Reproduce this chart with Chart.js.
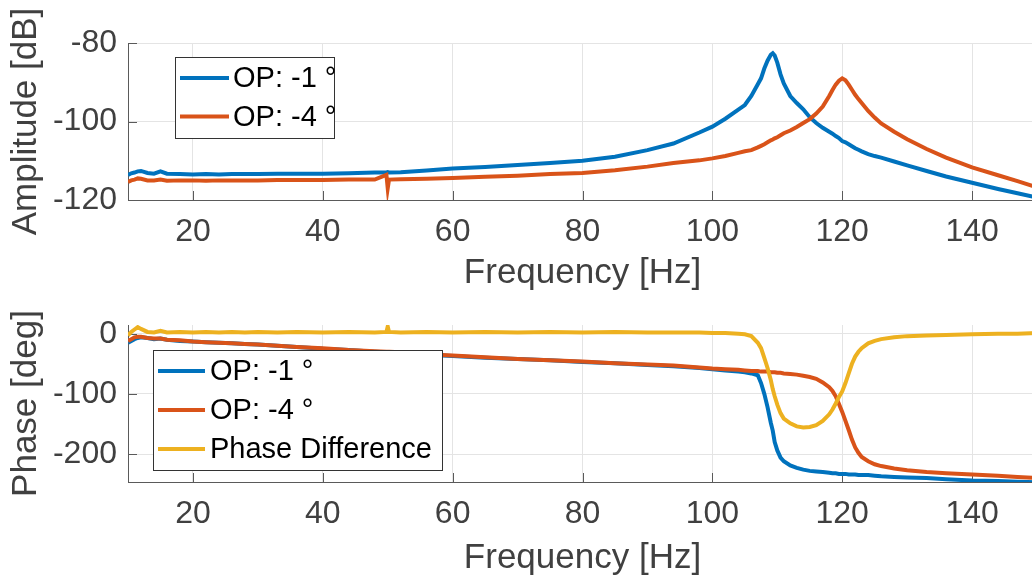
<!DOCTYPE html>
<html><head><meta charset="utf-8">
<script src="https://cdn.jsdelivr.net/npm/chart.js@4.4.0/dist/chart.umd.min.js"></script>
<style>
html,body{margin:0;padding:0;background:#fff;overflow:hidden;width:1032px;height:583px}
#wrap{position:relative;width:1032px;height:583px;overflow:hidden;background:#fff}
canvas{position:absolute;left:0}
</style></head><body>
<div id="wrap">
<canvas id="c1" width="1037" height="291" style="top:0;width:1037px;height:291px"></canvas>
<canvas id="c2" width="1037" height="292" style="top:291px;width:1037px;height:292px"></canvas>
</div>
<script>
const freq = [10, 10.5, 11, 11.5, 12, 13, 14, 15, 16, 18, 20, 22, 24, 26, 28, 30, 33, 36, 40, 44, 48, 49.8, 50, 50.2, 52, 56, 60, 65, 70, 75, 80, 85, 90, 94, 98, 100, 102, 104, 105, 106, 107, 107.5, 108, 108.5, 109, 109.3, 109.6, 110, 110.5, 111, 112, 113, 114, 115, 116, 117, 118, 118.5, 119, 119.5, 120, 120.5, 121, 121.5, 122, 122.5, 123, 124, 125, 126, 128, 130, 133, 136, 140, 144, 147, 150];

const ampOP1 = [-113.6, -113.2, -113.0, -112.7, -112.6, -113.1, -113.3, -112.7, -113.3, -113.4, -113.5, -113.4, -113.5, -113.4, -113.4, -113.4, -113.3, -113.3, -113.3, -113.2, -113.0, -113.0, -112.9, -113.0, -112.9, -112.5, -112.0, -111.6, -111.1, -110.6, -110.0, -109.0, -107.3, -105.6, -102.8, -101.3, -99.3, -97.0, -95.8, -93.5, -90.5, -89.0, -86.5, -84.5, -83.0, -82.6, -83.2, -85.0, -88.0, -90.3, -93.5, -95.3, -96.9, -98.9, -100.4, -101.6, -102.6, -103.1, -103.7, -104.2, -105.0, -105.3, -105.8, -106.3, -106.8, -107.2, -107.6, -108.3, -108.8, -109.2, -110.2, -111.2, -112.6, -114.0, -115.6, -117.2, -118.3, -119.4];

const ampOP4 = [-115.4, -115.0, -114.8, -114.5, -114.6, -115.0, -115.0, -114.8, -115.1, -115.0, -115.0, -115.1, -115.0, -115.0, -115.0, -115.0, -114.9, -114.9, -114.9, -114.8, -114.8, -113.6, -117.0, -114.8, -114.7, -114.6, -114.4, -114.1, -113.8, -113.4, -113.1, -112.4, -111.5, -110.6, -109.9, -109.4, -108.8, -108.0, -107.6, -107.3, -106.6, -106.2, -105.8, -105.3, -104.8, -104.6, -104.3, -104.0, -103.5, -103.0, -102.3, -101.4, -100.4, -99.4, -98.0, -96.2, -93.5, -92.0, -90.6, -89.6, -89.0, -89.5, -90.6, -91.9, -93.2, -94.3, -95.3, -97.3, -99.0, -100.5, -102.6, -104.5, -107.0, -109.2, -111.7, -113.7, -115.2, -116.8];

const phaseOP1 = [-15, -12, -9, -7, -6, -7, -9, -8, -10, -12, -13, -14, -15, -16, -17, -18, -20, -22, -25, -27, -30, -31, -31, -31, -32, -35, -37, -40, -42, -44, -47, -49, -52, -54, -57, -59, -61, -63, -64, -66, -69, -82, -100, -122, -148, -161, -180, -194, -206, -212, -219, -223, -226, -228, -229, -230, -231, -232, -232, -233, -233, -233, -234, -234, -234, -235, -235, -235, -236, -237, -238, -239, -240, -242, -244, -245, -246, -247];

const phaseOP4 = [-12, -9, -6, -5, -5, -7, -8, -8, -10, -11, -13, -14, -15, -16, -17, -18, -20, -22, -24, -27, -29, -30, -30, -30, -31, -34, -36, -39, -42, -44, -46, -49, -51, -53, -56, -58, -59, -60, -61, -62, -62, -63, -63, -63, -64, -64, -64, -65, -65, -66, -67, -68, -70, -72, -75, -81, -89, -95, -104, -117, -130, -145, -160, -176, -189, -198, -205, -212, -217, -220, -224, -227, -230, -232, -234, -236, -238, -240];

const phaseDiff = [-3, 3, 7, 11, 8, 3, 2, 5, 2, 3, 2, 3, 2, 3, 2, 3, 2, 3, 2, 3, 2, 3, 12, 3, 2, 3, 2, 3, 2, 3, 2, 3, 2, 2, 2, 1, 1, 0, -1, -4, -15, -24, -40, -57, -77, -92, -104, -118, -132, -141, -149, -154, -156, -155, -152, -145, -134, -126, -116, -105, -96, -82, -66, -50, -38, -30, -24, -16, -12, -9, -6, -4, -3, -2, -1, 0, 0, 1];

const xTickValues = [20, 40, 60, 80, 100, 120, 140];
const ampTickValues = [-120, -100, -80];
const phaseTickValues = [-200, -100, 0];
const seriesLabels = ['OP: -1 °', 'OP: -4 °', 'Phase Difference'];
const seriesColors = ['#0072BD', '#D95319', '#EDB120'];

const FONT = '"Liberation Sans", Arial, Helvetica, sans-serif';
const TEXT = '#404040';
const AXIS = '#5a5a5a';
const GRID = '#e4e4e4';

function pts(ys) { return freq.map((f, i) => ({ x: f, y: ys[i] })); }
function ds(i, ys) {
  return { label: seriesLabels[i], data: pts(ys), borderColor: seriesColors[i], backgroundColor: seriesColors[i],
           borderWidth: 4, pointRadius: 0, tension: 0, fill: false, order: 10 - i };
}

const inTicks = {
  id: 'inTicks',
  beforeDatasetsDraw(chart) {
    const { ctx, chartArea: a, scales: { x, y } } = chart;
    ctx.save();
    ctx.strokeStyle = AXIS; ctx.lineWidth = 1;
    ctx.beginPath();
    x.ticks.forEach(t => { const p = Math.round(x.getPixelForValue(t.value)) + 0.5; ctx.moveTo(p, a.bottom); ctx.lineTo(p, a.bottom - 9); });
    y.ticks.forEach(t => { const p = Math.round(y.getPixelForValue(t.value)) + 0.5; ctx.moveTo(a.left, p); ctx.lineTo(a.left + 9, p); });
    ctx.stroke();
    ctx.restore();
  }
};

const boxLegend = {
  id: 'boxLegend',
  afterDraw(chart, args, o) {
    if (!o || !o.w) return;
    const ctx = chart.ctx;
    ctx.save();
    ctx.fillStyle = '#fff';
    ctx.fillRect(o.x, o.y, o.w, o.h);
    ctx.strokeStyle = '#333';
    ctx.lineWidth = 1;
    ctx.strokeRect(o.x + 0.5, o.y + 0.5, o.w, o.h);
    ctx.font = o.size + 'px ' + FONT;
    ctx.textBaseline = 'middle';
    ctx.textAlign = 'left';
    chart.data.datasets.forEach((d, i) => {
      const yy = o.y + o.first + i * o.step;
      ctx.strokeStyle = d.borderColor; ctx.lineWidth = 4;
      ctx.beginPath(); ctx.moveTo(o.x + o.lx0, yy); ctx.lineTo(o.x + o.lx1, yy); ctx.stroke();
      ctx.fillStyle = '#000';
      ctx.fillText(d.label, o.x + o.tx, yy + 1);
    });
    ctx.restore();
  }
};

function makeChart(id, datasets, yTicks, yMin, yMax, yTitle, g) {
  return new Chart(document.getElementById(id), {
    type: 'line',
    data: { datasets },
    options: {
      responsive: false, animation: false, devicePixelRatio: 1,
      layout: { padding: { top: g.top, left: 0, right: 0, bottom: 0 } },
      plugins: { legend: { display: false }, tooltip: { enabled: false }, boxLegend: g.legend },
      scales: {
        x: {
          type: 'linear', min: 10, max: 150,
          afterBuildTicks: s => { s.ticks = xTickValues.map(v => ({ value: v })); },
          afterFit: s => { s.height = g.xAxisH; },
          grid: { color: GRID, drawTicks: false, lineWidth: 1 },
          border: { color: AXIS, width: 1 },
          ticks: { font: { family: FONT, size: 32, lineHeight: 1 }, color: TEXT, padding: g.xTickPad, maxRotation: 0, autoSkip: false },
          title: { display: true, text: 'Frequency [Hz]', font: { family: FONT, size: 35, lineHeight: 1 }, color: TEXT, padding: { top: 0, bottom: g.xTitlePad } }
        },
        y: {
          type: 'linear', min: yMin, max: yMax,
          afterBuildTicks: s => { s.ticks = yTicks.map(v => ({ value: v })); },
          afterFit: s => { s.width = 128; },
          grid: { color: GRID, drawTicks: false, lineWidth: 1 },
          border: { color: AXIS, width: 1 },
          ticks: { font: { family: FONT, size: 32, lineHeight: 1 }, color: TEXT, padding: 11, autoSkip: false },
          title: { display: true, text: yTitle, font: { family: FONT, size: 35, lineHeight: 1 }, color: TEXT, padding: { top: 9, bottom: 0 } }
        }
      }
    },
    plugins: [inTicks, boxLegend]
  });
}

makeChart('c1', [ds(0, ampOP1), ds(1, ampOP4)], ampTickValues, -120, -80, 'Amplitude [dB]',
  { top: 43, xAxisH: 91, xTickPad: 16, xTitlePad: 0,
    legend: { x: 175, y: 57, w: 159, h: 81, first: 21, step: 38.5, lx0: 5, lx1: 54, tx: 58, size: 29 } });

makeChart('c2', [ds(0, phaseOP1), ds(1, phaseOP4), ds(2, phaseDiff)], phaseTickValues, -246.5, 14.5, 'Phase [deg]',
  { top: 34, xAxisH: 101, xTickPad: 16, xTitlePad: 7,
    legend: { x: 153, y: 59, w: 289, h: 120, first: 21, step: 39, lx0: 5, lx1: 52, tx: 57, size: 29 } });
</script>
</body></html>
